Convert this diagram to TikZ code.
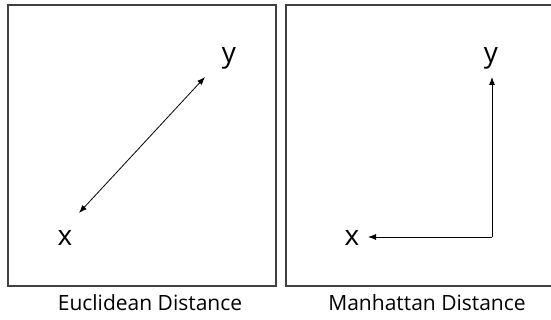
\documentclass[tikz,border=0pt]{standalone}
\usepackage{fontspec}
\setmainfont{Open Sans}
\usetikzlibrary{arrows.meta}
\begin{document}
\begin{tikzpicture}[x=1pt,y=-1pt,
  frame/.style={draw=black!75,line width=1.6pt},
  conn/.style={draw=black,line width=0.8pt,-{Latex[length=8pt,width=6pt]}},
  letter/.style={inner sep=0pt,font=\fontsize{28}{32}\selectfont},
  caption/.style={inner sep=0pt,font=\fontsize{21}{25}\selectfont}]
\useasboundingbox (0,0) rectangle (551,320);
\draw[frame] (8,5) rectangle (276,286);
\draw[frame] (552,5) -- (286,5) -- (286,286) -- (552,286);
% Euclidean
\node[letter] (x1) at (65,238) {x};
\node[letter] (y1) at (229,58) {y};
\coordinate (a1) at (79,213);
\coordinate (b1) at (205,77);
\draw[conn,{Latex[length=8pt,width=6pt]}-{Latex[length=8pt,width=6pt]}] (a1) -- (b1);
% Manhattan
\node[letter] (x2) at (352,238) {x};
\node[letter] (y2) at (491,58) {y};
\coordinate (c2) at (492,237);
\coordinate (t2) at (492,77);
\coordinate (l2) at (368,237);
\draw[conn] (c2) -- (t2);
\draw[conn] (c2) -- (l2);
\node[caption] (cap1) at (150,303) {Euclidean Distance};
\node[caption] (cap2) at (427,303) {Manhattan Distance};
\end{tikzpicture}
\end{document}
